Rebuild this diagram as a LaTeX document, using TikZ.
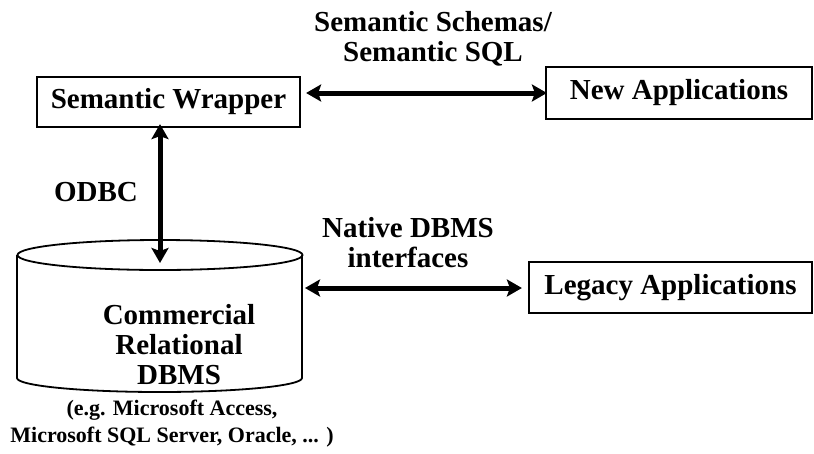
\documentclass[tikz,border=0pt]{standalone}
\usepackage{fontspec}
\setmainfont{Liberation Serif}
\usetikzlibrary{arrows.meta}
\tikzset{
  lbl/.style={font=\bfseries\fontsize{29}{30}\selectfont, align=center, inner sep=0pt},
  small/.style={font=\bfseries\fontsize{22}{27}\selectfont, align=center, inner sep=0pt},
  appbox/.style={draw, line width=2.2pt, inner sep=0pt, font=\bfseries\fontsize{29}{30}\selectfont},
  link/.style={line width=5pt, {Stealth[length=15pt,width=17pt,inset=3pt]}-{Stealth[length=15pt,width=17pt,inset=3pt]}},
}
\begin{document}
\begin{tikzpicture}[x=1pt, y=-1pt]
\useasboundingbox (0,0) rectangle (814,453);

% boxes
\node[appbox, minimum width=263pt, minimum height=50pt] (sw) at (168.5,102) {Semantic Wrapper};
\node[appbox, minimum width=266pt, minimum height=52pt] (na) at (679,93) {New Applications};
\node[appbox, minimum width=283pt, minimum height=51pt] (la) at (670.5,287.5) {Legacy Applications};

% database cylinder
\draw[line width=1.8pt] (17,255) -- (17,378) arc[start angle=180, end angle=0, x radius=142.5, y radius=14] -- (302,255);
\draw[line width=1.8pt] (160,255) ellipse[x radius=142.5, y radius=15];
\coordinate (dbtop) at (160,263);
\coordinate (dbright) at (302,288);
\node[lbl] (dbtext) at (179,345) {Commercial\\Relational\\DBMS};
\node[small] (dbnote) at (172,424) {(e.g. Microsoft Access,\\Microsoft SQL Server, Oracle, ... )};

% labels
\node[lbl] (semlbl) at (433,39) {Semantic Schemas/\\Semantic SQL};
\node[lbl] (odbc) at (96,192) {ODBC};
\node[lbl] (natlbl) at (408,243) {Native DBMS\\interfaces};

% connectors
\draw[link] ([xshift=5pt]sw.east |- na.west) -- ([xshift=2pt]na.west);
\draw[link] ([yshift=4pt]dbtop |- sw.south) -- (dbtop);
\draw[link] ([xshift=3pt]dbright) -- ([xshift=-6pt]dbright -| la.west);
\end{tikzpicture}
\end{document}
